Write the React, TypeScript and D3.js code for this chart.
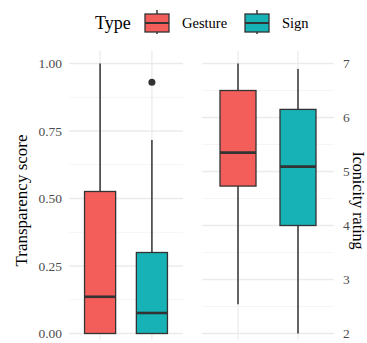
import React from 'react';
import * as d3 from 'd3';

const types = ['Gesture', 'Sign'];
const colors = ['#F35E5A', '#17B2B6'];

// [min whisker, q1, median, q3, max whisker]
const transparency = [
  [0, 0, 0.136, 0.526, 1.0],
  [0, 0, 0.076, 0.3, 0.717]
];
const transparencyOutliers = [[], [0.931]];
const transparencyTicks = [0, 0.25, 0.5, 0.75, 1.0];

const iconicity = [
  [2.54, 4.73, 5.35, 6.5, 7.0],
  [2.0, 4.0, 5.09, 6.15, 6.9]
];
const iconicityTicks = [2, 3, 4, 5, 6, 7];

const font = '"Liberation Serif", serif';
const W = 367;
const H = 343;

const Panel = ({ x0, x1, yTop, yBottom, domain, ticks, stats, outliers, right, fmt }) => {
  const y = d3.scaleLinear().domain(domain).range([yBottom, yTop]);
  const x = d3.scalePoint().domain(types).range([x0, x1]).padding(0.6);
  const minor = ticks.slice(1).map((t, i) => (t + ticks[i]) / 2);
  const bw = x.step() * 0.6;
  return (
    <g>
      {minor.map(t => (
        <line key={'m' + t} x1={x0} x2={x1} y1={y(t)} y2={y(t)} stroke="#F2F2F2" strokeWidth={0.8} />
      ))}
      {ticks.map(t => (
        <line key={'t' + t} x1={x0} x2={x1} y1={y(t)} y2={y(t)} stroke="#EBEBEB" strokeWidth={1.3} />
      ))}
      {types.map(c => (
        <line key={c} x1={x(c)} x2={x(c)} y1={yTop - 13} y2={yBottom + 6} stroke="#EBEBEB" strokeWidth={1.3} />
      ))}
      {ticks.map(t => (
        <text key={'l' + t} x={right ? x1 + 9 : x0 - 7} y={y(t)} dy="0.35em"
          textAnchor={right ? 'start' : 'end'} fontSize={13.5} fill="#4D4D4D">
          {fmt(t)}
        </text>
      ))}
      {types.map((c, i) => {
        const [lo, q1, med, q3, hi] = stats[i];
        const cx = x(c);
        return (
          <g key={c}>
            <line x1={cx} x2={cx} y1={y(hi)} y2={y(q3)} stroke="#333333" strokeWidth={1.5} />
            <line x1={cx} x2={cx} y1={y(q1)} y2={y(lo)} stroke="#333333" strokeWidth={1.5} />
            <rect x={cx - bw / 2} width={bw} y={y(q3)} height={y(q1) - y(q3)}
              fill={colors[i]} stroke="#333333" strokeWidth={1.3} />
            <line x1={cx - bw / 2} x2={cx + bw / 2} y1={y(med)} y2={y(med)} stroke="#333333" strokeWidth={2.6} />
            {outliers[i].map(o => (
              <circle key={o} cx={cx} cy={y(o)} r={3.5} fill="#333333" />
            ))}
          </g>
        );
      })}
    </g>
  );
};

export default function App() {
  const yTop = 63.5;
  const yBottom = 333.5;
  const legendItems = [
    { label: 'Gesture', kx: 145, tx: 182 },
    { label: 'Sign', kx: 245, tx: 282 }
  ];
  return (
    <svg width={W} height={H} fontFamily={font}
      style={{ position: 'absolute', left: 0, top: 0, background: '#fff' }}>
      <Panel x0={69} x1={183} yTop={yTop} yBottom={yBottom} domain={[0, 1]} ticks={transparencyTicks}
        stats={transparency} outliers={transparencyOutliers} right={false} fmt={d3.format('.2f')} />
      <Panel x0={202} x1={334} yTop={yTop} yBottom={yBottom} domain={[2, 7]} ticks={iconicityTicks}
        stats={iconicity} outliers={[[], []]} right={true} fmt={d3.format('d')} />
      <text transform={`translate(21,${(yTop + yBottom) / 2 + 2}) rotate(-90)`} textAnchor="middle"
        dy="0.35em" fontSize={17} fill="#000">Transparency score</text>
      <text transform={`translate(358.5,${(yTop + yBottom) / 2 + 2}) rotate(90)`} textAnchor="middle"
        dy="0.35em" fontSize={16} fill="#000">Iconicity rating</text>
      <text x={95} y={23} dy="0.35em" fontSize={18} fill="#000">Type</text>
      {legendItems.map((d, i) => (
        <g key={d.label}>
          <line x1={d.kx + 12} x2={d.kx + 12} y1={10} y2={34} stroke="#333333" strokeWidth={1.5} />
          <rect x={d.kx} y={14} width={24} height={18} fill={colors[i]} stroke="#333333" strokeWidth={1.3} />
          <line x1={d.kx} x2={d.kx + 24} y1={23} y2={23} stroke="#333333" strokeWidth={2} />
          <text x={d.tx} y={23} dy="0.35em" fontSize={14.5} fill="#000">{d.label}</text>
        </g>
      ))}
    </svg>
  );
}
